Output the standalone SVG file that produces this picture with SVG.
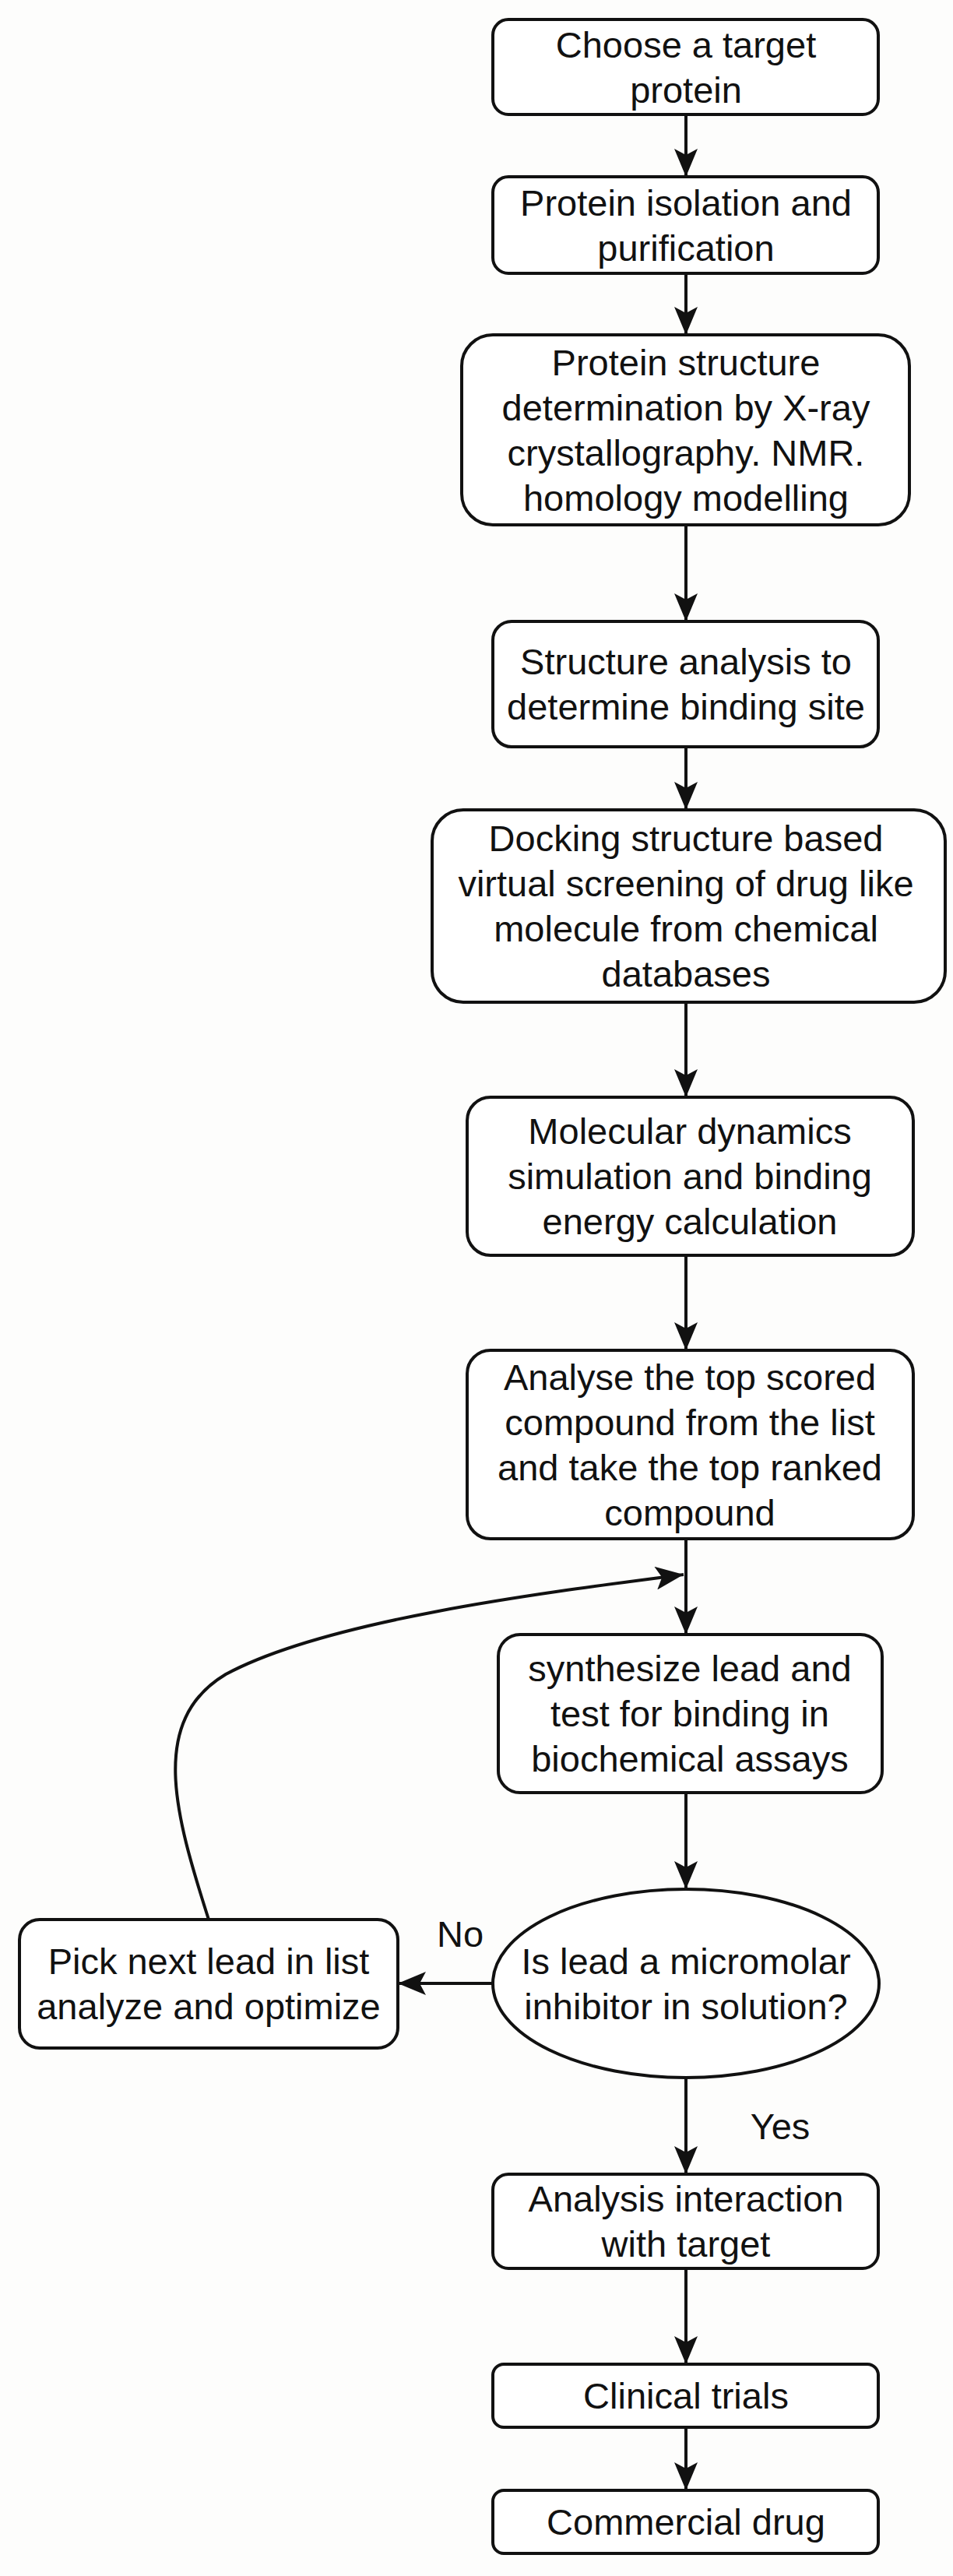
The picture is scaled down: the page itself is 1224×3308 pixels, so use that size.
<svg xmlns="http://www.w3.org/2000/svg" width="1224" height="3308" viewBox="0 0 1224 3308">
<style>
.b{fill:#fff;stroke:#111;stroke-width:4}
.t{font-family:"Liberation Sans",Arial,sans-serif;font-size:47px;fill:#111;text-anchor:middle}
.e{stroke:#111;stroke-width:4;fill:none;marker-end:url(#h)}
</style>
<defs><marker id="h" markerWidth="36" markerHeight="30" refX="36" refY="15" orient="auto" markerUnits="userSpaceOnUse"><path d="M0,0 L36,15 L0,30 L8,15 z" fill="#111"/></marker></defs>
<rect width="1224" height="3308" fill="#fdfdfc"/>
<g id="connectors">
<path class="e" d="M881,147 V227"/>
<path class="e" d="M881,351 V430"/>
<path class="e" d="M881,674 V798"/>
<path class="e" d="M881,959 V1040"/>
<path class="e" d="M881,1287 V1409"/>
<path class="e" d="M881,1612 V1734"/>
<path class="e" d="M881,1976 V2099"/>
<path class="e" d="M881,2302 V2426"/>
<path class="e" d="M633,2547 H511"/>
<path class="e" d="M268,2465 C225,2330 190,2210 290,2150 C420,2080 700,2045 878,2022"/>
<path class="e" d="M881,2669 V2792"/>
<path class="e" d="M881,2913 V3036"/>
<path class="e" d="M881,3117 V3198"/>
<text class="t" x="591" y="2500">No</text>
<text class="t" x="1002" y="2747">Yes</text>
</g>
<g id="n1"><rect class="b" x="633" y="25" width="495" height="122" rx="20"/><text class="t" x="881" y="74">Choose a target</text><text class="t" x="881" y="132">protein</text></g>
<g id="n2"><rect class="b" x="633" y="227" width="495" height="124" rx="20"/><text class="t" x="881" y="277">Protein isolation and</text><text class="t" x="881" y="335">purification</text></g>
<g id="n3"><rect class="b" x="593" y="430" width="575" height="244" rx="40"/><text class="t" x="881" y="482">Protein structure</text><text class="t" x="881" y="540">determination by X-ray</text><text class="t" x="881" y="598">crystallography. NMR.</text><text class="t" x="881" y="656">homology modelling</text></g>
<g id="n4"><rect class="b" x="633" y="798" width="495" height="161" rx="24"/><text class="t" x="881" y="866">Structure analysis to</text><text class="t" x="881" y="924">determine binding site</text></g>
<g id="n5"><rect class="b" x="555" y="1040" width="659" height="247" rx="40"/><text class="t" x="881" y="1093">Docking structure based</text><text class="t" x="881" y="1151">virtual screening of drug like</text><text class="t" x="881" y="1209">molecule from chemical</text><text class="t" x="881" y="1267">databases</text></g>
<g id="n6"><rect class="b" x="600" y="1409" width="573" height="203" rx="30"/><text class="t" x="886" y="1469">Molecular dynamics</text><text class="t" x="886" y="1527">simulation and binding</text><text class="t" x="886" y="1585">energy calculation</text></g>
<g id="n7"><rect class="b" x="600" y="1734" width="573" height="242" rx="30"/><text class="t" x="886" y="1785">Analyse the top scored</text><text class="t" x="886" y="1843">compound from the list</text><text class="t" x="886" y="1901">and take the top ranked</text><text class="t" x="886" y="1959">compound</text></g>
<g id="n8"><rect class="b" x="640" y="2099" width="493" height="203" rx="28"/><text class="t" x="886" y="2159">synthesize lead and</text><text class="t" x="886" y="2217">test for binding in</text><text class="t" x="886" y="2275">biochemical assays</text></g>
<g id="n9"><ellipse class="b" cx="881" cy="2547" rx="248" ry="121"/><text class="t" x="881" y="2535">Is lead a micromolar</text><text class="t" x="881" y="2593">inhibitor in solution?</text></g>
<g id="n10"><rect class="b" x="25" y="2465" width="486" height="165" rx="26"/><text class="t" x="268" y="2535">Pick next lead in list</text><text class="t" x="268" y="2593">analyze and optimize</text></g>
<g id="n11"><rect class="b" x="633" y="2792" width="495" height="121" rx="20"/><text class="t" x="881" y="2840">Analysis interaction</text><text class="t" x="881" y="2898">with target</text></g>
<g id="n12"><rect class="b" x="633" y="3036" width="495" height="81" rx="14"/><text class="t" x="881" y="3093">Clinical trials</text></g>
<g id="n13"><rect class="b" x="633" y="3198" width="495" height="81" rx="14"/><text class="t" x="881" y="3255">Commercial drug</text></g>
</svg>
